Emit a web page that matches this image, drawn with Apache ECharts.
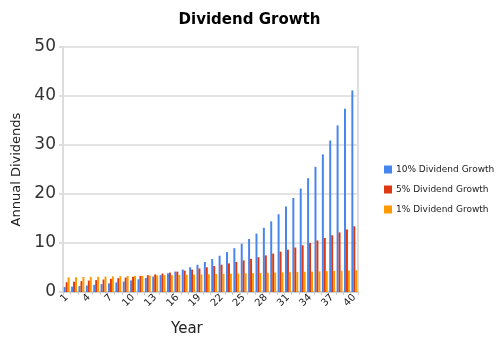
<!DOCTYPE html>
<html><head><meta charset="utf-8">
<script src="https://cdn.jsdelivr.net/npm/echarts@6/dist/echarts.min.js"></script>
<style>html,body{margin:0;padding:0;background:#fff}#c{width:499px;height:344px}</style>
</head><body><div id="c"></div>
<script>
var years = [];
for (var i = 1; i <= 40; i++) years.push(String(i));
var growth10 = [1.00,1.10,1.21,1.33,1.46,1.61,1.77,1.95,2.14,2.36,2.59,2.85,3.14,3.45,3.80,4.18,4.59,5.05,5.56,6.12,6.73,7.40,8.14,8.95,9.85,10.83,11.92,13.11,14.42,15.86,17.45,19.19,21.11,23.23,25.55,28.10,30.91,34.00,37.40,41.14];
var growth5 = [2.00,2.10,2.21,2.32,2.43,2.55,2.68,2.81,2.95,3.10,3.26,3.42,3.59,3.77,3.96,4.16,4.37,4.58,4.81,5.05,5.31,5.57,5.85,6.14,6.45,6.77,7.11,7.47,7.84,8.23,8.64,9.08,9.53,10.00,10.51,11.03,11.58,12.16,12.77,13.41];
var growth1 = [3.00,3.03,3.06,3.09,3.12,3.15,3.18,3.22,3.25,3.28,3.31,3.35,3.38,3.41,3.45,3.48,3.52,3.55,3.59,3.62,3.66,3.70,3.73,3.77,3.81,3.85,3.88,3.92,3.96,4.00,4.04,4.08,4.12,4.16,4.21,4.25,4.29,4.33,4.38,4.42];
var seriesNames = ['10% Dividend Growth','5% Dividend Growth','1% Dividend Growth'];
var yTicks = [0,10,20,30,40,50];

var chart = echarts.init(document.getElementById('c'), null, {renderer:'canvas'});
var font = 'DejaVu Sans';
chart.setOption({
  animation:false,
  color:['#4684EE','#DC3912','#FF9900'],
  title:[
    {text:'Dividend Growth', left:'center', top:8, textStyle:{fontFamily:font, fontSize:15, fontWeight:'bold', color:'#000'}},
    {text:'Year', left:166, top:317, textStyle:{fontFamily:font, fontSize:15, fontWeight:'normal', color:'#222'}}
  ],
  legend:{
    orient:'vertical', left:379, top:160, itemWidth:8, itemHeight:8, itemGap:11,
    icon:'rect',
    data:seriesNames,
    textStyle:{fontFamily:font, fontSize:9, color:'#222', padding:[0,0,0,-1]}
  },
  grid:{left:63, right:141, top:47, bottom:52, show:true, borderColor:'#ddd', borderWidth:2, containLabel:false},
  xAxis:{
    type:'category', data:years,
    axisLine:{lineStyle:{color:'#ccc', width:2}},
    axisTick:{show:true, interval:0, length:3, lineStyle:{color:'#ccc'}},
    axisLabel:{interval:2, rotate:45, fontFamily:font, fontSize:10, color:'#222', margin:4},
    splitLine:{show:false}
  },
  yAxis:{
    type:'value', min:0, max:50, interval:10,
    name:'Annual Dividends', nameLocation:'middle', nameGap:39,
    nameTextStyle:{fontFamily:font, fontSize:13, color:'#222'},
    axisLine:{show:true, lineStyle:{color:'#ddd', width:2}},
    axisTick:{show:true, length:4, lineStyle:{color:'#ddd', width:2}},
    axisLabel:{fontFamily:font, fontSize:17, color:'#333', margin:7,
      formatter:function(v){return yTicks.indexOf(v)>=0?String(v):'';}},
    splitLine:{lineStyle:{color:'#e3e3e3', width:2}}
  },
  series:[
    {name:seriesNames[0], type:'bar', data:growth10, barGap:'0%', barCategoryGap:'20%'},
    {name:seriesNames[1], type:'bar', data:growth5, barGap:'0%', barCategoryGap:'20%'},
    {name:seriesNames[2], type:'bar', data:growth1, barGap:'0%', barCategoryGap:'20%'}
  ]
});
</script></body></html>
